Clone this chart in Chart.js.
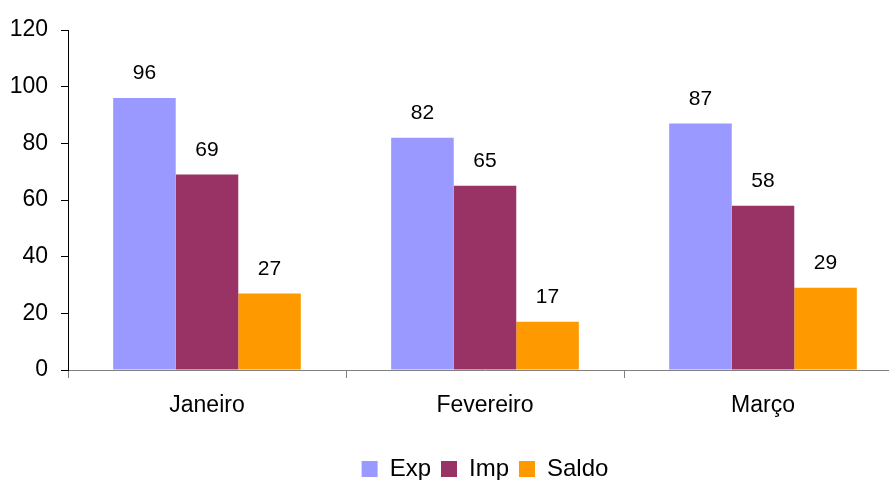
<!DOCTYPE html>
<html>
<head>
<meta charset="utf-8">
<script src="https://cdn.jsdelivr.net/npm/chart.js@4/dist/chart.umd.min.js"></script>
<style>
  html, body { margin: 0; padding: 0; background: #fff; overflow: hidden; }
  #wrap { width: 902px; height: 480px; }
</style>
</head>
<body>
<div id="wrap"><canvas id="trade"></canvas></div>
<script>
const months = ["Janeiro", "Fevereiro", "Março"];
const exp = [96, 82, 87];
const imp = [69, 65, 58];
const saldo = [27, 17, 29];
const yTicks = [0, 20, 40, 60, 80, 100, 120];

const FONT = "'Liberation Sans', Arial, sans-serif";

// value labels above each bar
const barLabels = {
  id: 'barLabels',
  afterDatasetsDraw(chart) {
    const ctx = chart.ctx;
    ctx.save();
    ctx.font = '21px ' + FONT;
    ctx.fillStyle = '#000';
    ctx.textAlign = 'center';
    ctx.textBaseline = 'alphabetic';
    chart.data.datasets.forEach((ds, i) => {
      chart.getDatasetMeta(i).data.forEach((bar, j) => {
        ctx.fillText(ds.data[j], bar.x, bar.y - 19);
      });
    });
    ctx.restore();
  }
};

const config = {
  type: 'bar',
  data: {
    labels: months,
    datasets: [
      { label: 'Exp', data: exp, backgroundColor: '#9999FF' },
      { label: 'Imp', data: imp, backgroundColor: '#993366' },
      { label: 'Saldo', data: saldo, backgroundColor: '#FF9900' }
    ]
  },
  options: {
    responsive: true,
    maintainAspectRatio: false,
    animation: false,
    layout: { padding: { top: 30, left: 0, right: 0, bottom: -11 } },
    datasets: {
      bar: { categoryPercentage: 0.675, barPercentage: 1.0 }
    },
    scales: {
      x: {
        afterFit: (scale) => { scale.height = 77; },
        border: { display: true, color: '#808080', width: 1 },
        grid: { display: true, drawOnChartArea: false, drawTicks: true, tickLength: 8, color: '#808080', offset: true },
        ticks: { color: '#000', font: { family: FONT, size: 23 }, padding: 14 }
      },
      y: {
        min: 0,
        max: 120,
        afterFit: (scale) => { scale.width = 68; },
        afterBuildTicks: (scale) => { scale.ticks = yTicks.map(v => ({ value: v })); },
        border: { display: true, color: '#000', width: 1 },
        grid: { display: true, drawOnChartArea: false, drawTicks: true, tickLength: 7, color: '#000' },
        ticks: { color: '#000', font: { family: FONT, size: 23 }, padding: 13 }
      }
    },
    plugins: {
      legend: {
        position: 'bottom',
        fullSize: false,
        labels: {
          color: '#000',
          font: { family: FONT, size: 24 },
          boxWidth: 16,
          boxHeight: 16,
          padding: 10
        }
      },
      tooltip: { enabled: false }
    }
  },
  plugins: [barLabels]
};

new Chart(document.getElementById('trade').getContext('2d'), config);
</script>
</body>
</html>
